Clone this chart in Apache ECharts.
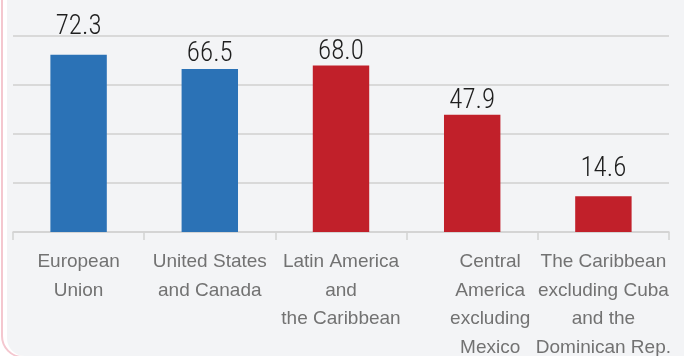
<!DOCTYPE html>
<html>
<head>
<meta charset="utf-8">
<script src="https://cdn.jsdelivr.net/npm/echarts@6/dist/echarts.min.js"></script>
<style>
  html, body { margin: 0; padding: 0; background: #ffffff; overflow: hidden; }
  #frame {
    position: absolute; left: 1px; top: -30px; width: 720px; height: 388px;
    border: 2px solid #f4c7cf; border-radius: 22px; box-sizing: border-box;
  }
  #panel {
    position: absolute; left: 7px; top: -30px; width: 720px; height: 386px;
    background: #f3f4f6; border-radius: 18px;
  }
  #chart { position: absolute; left: 0; top: 0; width: 684px; height: 356px; }
</style>
</head>
<body>
<div id="frame"></div>
<div id="panel"></div>
<div id="chart"></div>
<script>
// Regions compared
const categories = [
  'European\nUnion',
  'United States\nand Canada',
  'Latin America\nand\nthe Caribbean',
  'Central\nAmerica\nexcluding\nMexico',
  'The Caribbean\nexcluding Cuba\nand the\nDominican Rep.'
];
// Indicator values per region
const values = [72.3, 66.5, 68.0, 47.9, 14.6];
// Blue for external partners, red for the region and its subregions
const barColors = ['#2b72b6', '#2b72b6', '#c1202a', '#c1202a', '#c1202a'];
// Gap between each value label and its bar
const labelGaps = [14, 1, 0, 0, 13];
// Value-axis ticks
const yTicks = [0, 20, 40, 60, 80];

const chart = echarts.init(document.getElementById('chart'), null, { renderer: 'canvas' });

chart.setOption({
  animation: false,
  backgroundColor: 'transparent',
  grid: {
    left: 13, right: 15, top: 36, bottom: 124,
    containLabel: false,
    outerBoundsMode: 'none'
  },
  xAxis: {
    type: 'category',
    data: categories.map((c, i) => i === 3
      ? { value: c, textStyle: { padding: [0, 0, 0, 36] } }
      : c),
    axisLine: { show: true, lineStyle: { color: '#d2d2d2', width: 1.5 } },
    axisTick: { show: true, length: 8, lineStyle: { color: '#d2d2d2', width: 1.5 } },
    axisLabel: {
      interval: 0,
      margin: 16,
      color: '#727272',
      fontFamily: "'Liberation Sans', Arial, sans-serif",
      fontSize: 19,
      lineHeight: 28.5,
      align: 'center'
    }
  },
  yAxis: {
    type: 'value',
    min: yTicks[0],
    max: yTicks[yTicks.length - 1],
    interval: yTicks[1] - yTicks[0],
    axisLine: { show: false },
    axisTick: { show: false },
    axisLabel: { show: false },
    splitLine: { show: true, lineStyle: { color: '#d9d9d9', width: 2 } }
  },
  series: [{
    type: 'bar',
    barWidth: '43%',
    data: values.map((v, i) => ({
      value: v,
      itemStyle: { color: barColors[i] },
      label: { distance: labelGaps[i] }
    })),
    label: {
      show: true,
      position: 'top',
      color: '#1e1e1e',
      fontFamily: "'Roboto Condensed', 'Liberation Sans', sans-serif",
      fontWeight: 300,
      fontSize: 27,
      formatter: p => p.value.toFixed(1)
    }
  }]
});
</script>
</body>
</html>
